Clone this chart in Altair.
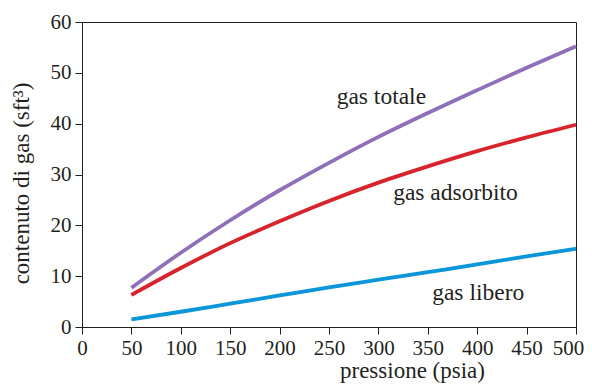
import altair as alt
import pandas as pd

pressione = [50, 100, 150, 200, 250, 300, 350, 400, 450, 500]
gas_totale = [7.7, 14.6, 21.0, 26.9, 32.3, 37.4, 42.1, 46.6, 51.0, 55.2]
gas_adsorbito = [6.3, 11.6, 16.5, 20.8, 24.8, 28.4, 31.6, 34.6, 37.3, 39.8]
gas_libero = [1.5, 3.0, 4.6, 6.2, 7.8, 9.3, 10.8, 12.3, 13.9, 15.4]

series_names = ["gas totale", "gas adsorbito", "gas libero"]
series_colors = ["#8e6fb8", "#d7232b", "#0a96d9"]

label_x = [303, 378, 401]
label_y = [45.2, 26.3, 6.7]

rows = []
for name, vals in zip(series_names, [gas_totale, gas_adsorbito, gas_libero]):
    for p, v in zip(pressione, vals):
        rows.append({"p": p, "v": v, "s": name})
df = pd.DataFrame(rows)
lab = pd.DataFrame({"x": label_x, "y": label_y, "t": series_names})

font = "Times New Roman, Liberation Serif, serif"
txt = "#231f20"

x_enc = alt.X("p:Q", scale=alt.Scale(domain=[0, 500], nice=False),
              axis=alt.Axis(values=list(range(0, 501, 50)), title="pressione (psia)", grid=False,
                            labelFlush=False, labelOverlap=False,
                            labelOffset={"condition": {"test": "datum.value == 500", "value": -8}, "value": 0},
                            titleX=330, titleAnchor="start", titleAlign="center"))
y_enc = alt.Y("v:Q", scale=alt.Scale(domain=[0, 60], nice=False),
              axis=alt.Axis(values=list(range(0, 61, 10)), title="contenuto di gas (sft³)", grid=False,
                            labelFlush=False, labelOverlap=False,
                            titleX=-49, titleY=161, titleAlign="center", titleBaseline="bottom", titleAngle=270))

lines = alt.Chart(df).mark_line(strokeWidth=3.8, interpolate="monotone", strokeCap="butt").encode(
    x=x_enc, y=y_enc,
    color=alt.Color("s:N", scale=alt.Scale(domain=series_names, range=series_colors), legend=None),
    detail="s:N",
)

labels = alt.Chart(lab).mark_text(font=font, fontSize=23.5, color=txt, align="center", baseline="middle").encode(
    x=alt.X("x:Q"), y=alt.Y("y:Q"), text="t:N"
)

chart = (lines + labels).properties(
    width=494, height=305,
    padding={"left": 74, "top": 14, "right": 8, "bottom": 58},
    autosize=alt.AutoSizeParams(type="none"),
).configure_view(stroke=txt, strokeWidth=1).configure_axis(
    labelFont=font, titleFont=font, labelFontSize=21, titleFontSize=23,
    labelColor=txt, titleColor=txt, domainColor=txt, tickColor=txt,
    tickSize=7, titleFontWeight="normal", domainWidth=1, tickWidth=1,
).configure_axisY(labelPadding=4).configure_axisX(labelPadding=3, titlePadding=1)

chart.save("out.html", embed_options={"renderer": "svg", "actions": False})
